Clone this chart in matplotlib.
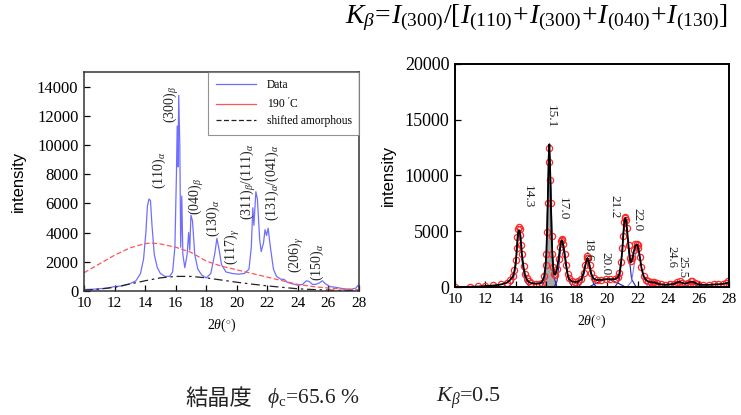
import matplotlib
matplotlib.use("Agg")
import matplotlib.pyplot as plt

plt.rcParams['mathtext.fontset'] = 'custom'
plt.rcParams['mathtext.rm'] = 'Liberation Serif'
plt.rcParams['mathtext.it'] = 'Liberation Serif:italic'
plt.rcParams['mathtext.bf'] = 'Liberation Serif:bold'
plt.rcParams['font.family'] = ['Liberation Serif', 'DejaVu Serif']

# ---------------- Left panel data ----------------
left_x = [10.0, 10.5, 11.0, 11.5, 12.0, 12.5, 13.0, 13.4, 13.7, 13.9, 14.05, 14.15, 14.25, 14.35,
          14.45, 14.6, 14.8, 15.0, 15.3, 15.6, 15.8, 15.95, 16.05, 16.1, 16.15, 16.2, 16.27, 16.33,
          16.4, 16.47, 16.6, 16.75, 16.85, 16.92, 17.0, 17.1, 17.25, 17.45, 17.7, 18.0, 18.3, 18.55,
          18.7, 18.85, 19.0, 19.3, 19.7, 20.1, 20.5, 20.8, 20.95, 21.05, 21.12, 21.25, 21.35, 21.5,
          21.6, 21.75, 21.85, 21.95, 22.05, 22.2, 22.4, 22.6, 22.9, 23.1, 23.3, 23.6, 24.0, 24.3,
          24.55, 24.75, 24.95, 25.15, 25.4, 25.6, 25.8, 26.1, 26.5, 27.0, 27.5, 27.8, 27.95, 28.0]
left_data = [100, 120, 150, 200, 300, 350, 500, 700, 1200, 2200, 4000, 5800, 6300, 6200,
             4500, 2500, 1600, 1200, 1000, 1000, 1300, 3000, 8000, 11300, 8500, 13400, 10000, 3000,
             6500, 2500, 1600, 2500, 4000, 2800, 5200, 4800, 2500, 1500, 1100, 900, 1200, 2500,
             3600, 2800, 1800, 1300, 1200, 1150, 1200, 1500, 3000, 5700, 4500, 6800, 6300, 3500,
             2700, 3300, 4200, 3800, 4300, 3000, 1500, 1000, 800, 800, 600, 500, 400, 450,
             700, 650, 450, 450, 550, 700, 500, 300, 250, 150, 120, 200, 400, 300]

melt_x = [10, 11, 12, 13, 14, 14.5, 15, 16, 17, 18, 19, 20, 21, 22, 23, 24, 25, 26, 27, 28]
melt_190 = [1250, 1850, 2450, 2950, 3250, 3280, 3220, 3000, 2650, 2050, 1700, 1450, 1200, 950,
            700, 450, 300, 200, 130, 80]

amor_x = [10, 11, 12, 13, 14, 15, 16, 17, 18, 19, 20, 21, 22, 23, 24, 25, 26, 27, 28]
amor_y = [50, 130, 250, 480, 700, 900, 1000, 1000, 900, 750, 600, 470, 350, 250, 150, 100, 60, 40, 20]

left_labels = [r"$(110)_{\alpha}$", r"$(300)_{\beta}$", r"$(040)_{\beta}$", r"$(130)_{\alpha}$",
               r"$(117)_{\gamma}$", r"$(311)_{\beta}/(111)_{\alpha}$", r"$(131)_{\alpha}/(041)_{\alpha}$",
               r"$(206)_{\gamma}$", r"$(150)_{\alpha}$"]
left_label_x = [14.95, 15.75, 17.35, 18.45, 19.75, 20.75, 22.3, 23.9, 25.3]
left_label_y = [8300, 12800, 6500, 5000, 3000, 7500, 7400, 2500, 2000]

# ---------------- Right panel data ----------------
right_x = [10.0, 11.0, 11.5, 12.0, 12.5, 13.0, 13.4, 13.6, 13.8, 13.9, 14.0, 14.05, 14.1, 14.15, 14.2,
           14.25, 14.3, 14.35, 14.4, 14.5, 14.6, 14.7, 14.85, 15.0, 15.3, 15.5, 15.7, 15.85, 15.95,
           16.0, 16.05, 16.1, 16.15, 16.2, 16.25, 16.3, 16.35, 16.4, 16.45, 16.5, 16.6, 16.7, 16.8,
           16.9, 16.95, 17.0, 17.05, 17.1, 17.2, 17.3, 17.4, 17.5, 17.7, 17.9, 18.1, 18.3, 18.45,
           18.55, 18.65, 18.7, 18.75, 18.85, 18.95, 19.1, 19.3, 19.6, 19.9, 20.2, 20.5, 20.7, 20.8,
           20.9, 21.0, 21.05, 21.1, 21.15, 21.2, 21.25, 21.3, 21.4, 21.5, 21.55, 21.65, 21.75, 21.85,
           21.95, 22.0, 22.05, 22.15, 22.25, 22.4, 22.55, 22.7, 22.85, 23.0, 23.1, 23.25, 23.5, 23.8,
           24.1, 24.4, 24.6, 24.75, 24.9, 25.1, 25.3, 25.5, 25.6, 25.75, 25.95, 26.3, 26.7, 27.0,
           27.3, 27.6, 27.8, 27.95]
right_data = [0, 20, 50, 100, 150, 250, 400, 600, 1000, 1500, 2400, 3500, 4500, 5200, 5400,
              5200, 4700, 3800, 3000, 1900, 1200, 800, 500, 400, 300, 300, 400, 1000, 2000,
              3000, 4900, 7500, 11200, 12500, 9600, 7500, 4600, 3000, 1800, 1200, 1100, 1600, 2500,
              3600, 4100, 4300, 4200, 3900, 3000, 2000, 1200, 800, 500, 450, 500, 700, 1300,
              2000, 2600, 2800, 2600, 2000, 1300, 800, 650, 650, 700, 700, 700, 900, 1300,
              2200, 3500, 4600, 5800, 6200, 6300, 6000, 5300, 3800, 2600, 2300, 2600, 3300, 3900,
              3900, 3800, 3500, 2700, 1800, 1000, 650, 500, 450, 450, 450, 350, 250, 200,
              250, 300, 450, 500, 400, 300, 400, 500, 500, 400, 250, 200, 200, 250,
              250, 300, 350, 500]
fit_y = [0, 20, 40, 80, 130, 220, 380, 600, 950, 1400, 2300, 3300, 4300, 4900, 5100,
         5000, 4600, 3800, 2900, 1800, 1100, 700, 450, 350, 300, 300, 400, 900, 1900,
         3000, 5000, 8000, 11500, 12800, 10500, 7200, 4400, 2800, 1700, 1200, 1100, 1600, 2500,
         3500, 4000, 4200, 4100, 3800, 2900, 1900, 1100, 700, 480, 450, 500, 700, 1300,
         1900, 2400, 2600, 2400, 1900, 1200, 750, 620, 650, 700, 700, 700, 850, 1200,
         2100, 3400, 4500, 5600, 6100, 6200, 5900, 5200, 3700, 2500, 2200, 2500, 3200, 3700,
         3800, 3700, 3400, 2600, 1700, 950, 620, 480, 430, 430, 420, 330, 240, 190,
         230, 290, 420, 470, 380, 290, 380, 470, 470, 380, 240, 190, 190, 230,
         240, 280, 320, 400]

comp_x = [
    [13.5, 13.8, 14.0, 14.1, 14.2, 14.3, 14.4, 14.6, 14.9],
    [15.7, 15.9, 16.0, 16.1, 16.2, 16.3, 16.4, 16.5, 16.7],
    [16.5, 16.7, 16.85, 16.95, 17.05, 17.15, 17.3, 17.45, 17.7],
    [18.1, 18.3, 18.5, 18.6, 18.7, 18.8, 18.9, 19.1, 19.3],
    [18.8, 19.3, 19.7, 20.0, 20.3, 20.7, 21.2],
    [20.5, 20.8, 20.95, 21.05, 21.2, 21.3, 21.45, 21.6, 21.9],
    [21.3, 21.6, 21.75, 21.9, 22.0, 22.1, 22.25, 22.4, 22.7],
    [22.7, 22.9, 23.1, 23.3, 23.5],
    [24.2, 24.45, 24.65, 24.85, 25.1],
    [25.1, 25.35, 25.55, 25.75, 26.0],
]
comp_y = [
    [0, 400, 2000, 3800, 5000, 4200, 2400, 500, 0],
    [0, 600, 3000, 8500, 12500, 9000, 3200, 900, 0],
    [0, 500, 2200, 3700, 4200, 3700, 2200, 700, 0],
    [0, 300, 1300, 2300, 2600, 2300, 1300, 300, 0],
    [0, 350, 600, 700, 600, 350, 0],
    [0, 600, 2600, 4800, 6100, 5000, 2600, 700, 0],
    [0, 500, 1800, 3300, 3800, 3300, 1800, 500, 0],
    [0, 250, 400, 250, 0],
    [0, 250, 400, 250, 0],
    [0, 250, 420, 250, 0],
]
comp_fill_index = 1

right_labels = ["14.3", "15.1", "17.0", "18.6", "20.0", "21.2", "22.0", "24.6", "25.5"]
right_label_x = [14.75, 16.3, 17.1, 18.7, 19.9, 20.5, 22.0, 24.2, 24.95]
right_label_y = [8100, 15300, 7000, 3300, 2100, 7200, 6000, 2700, 1750]

x_ticks = [10, 12, 14, 16, 18, 20, 22, 24, 26, 28]
left_yticks = [0, 2000, 4000, 6000, 8000, 10000, 12000, 14000]
right_yticks = [0, 5000, 10000, 15000, 20000]

# ---------------- Figure ----------------
fig = plt.figure(figsize=(7.41, 4.15), dpi=100)
axL = fig.add_axes([84 / 741, 1 - 291 / 415, 275 / 741, 219 / 415])
axR = fig.add_axes([455 / 741, 1 - 287 / 415, 274 / 741, 223 / 415])

# left panel
axL.plot(left_x, left_data, color='#6f6fff', lw=0.9, label='Data')
axL.plot(melt_x, melt_190, color='#ff5555', lw=0.9, ls=(0, (4, 2)), label="190 $'$C")
axL.plot(amor_x, amor_y, color='#222222', lw=0.9, ls=(0, (7, 3, 2, 3)), label='shifted amorphous')
axL.set_xlim(10, 28)
axL.set_ylim(0, 15000)
axL.set_xticks(x_ticks)
axL.set_yticks(left_yticks)
for x, y, t in zip(left_label_x, left_label_y, left_labels):
    axL.text(x, y, t, rotation=90, ha='center', va='center', fontsize=10, color='#222222')
leg = axL.legend(loc='upper right', bbox_to_anchor=(1.0, 1.0), borderaxespad=0.0,
                 fontsize=8.3, handlelength=3.5, frameon=True, fancybox=False,
                 borderpad=0.65, labelspacing=0.4, handletextpad=0.9)
leg.get_frame().set_edgecolor('#777777')
leg.get_frame().set_linewidth(0.8)
leg.get_lines()[1].set_linestyle('-')
leg.get_lines()[2].set_linestyle((0, (4, 2)))
for s in axL.spines.values():
    s.set_color('#333333')
    s.set_linewidth(1.1)

# right panel
axR.fill_between(comp_x[comp_fill_index], comp_y[comp_fill_index], color='#a8a8a8', lw=0)
for i, (cx, cy) in enumerate(zip(comp_x, comp_y)):
    axR.plot(cx, cy, color='#2020a0' if i != 6 else '#8080ff', lw=0.8)
axR.plot([10, 13.5], [0, 0], color='#000080', lw=1.2)
axR.plot([18.0, 22.8], [0, 0], color='#2e8b2e', lw=0.8)
axR.plot(right_x, right_data, ls='none', marker='o', ms=4.5, mfc='none', mec='#ff2a2a', mew=0.9)
axR.plot(right_x, fit_y, color='black', lw=1.3)
axR.set_xlim(10, 28)
axR.set_ylim(0, 20000)
axR.set_xticks(x_ticks)
axR.set_yticks(right_yticks)
for i, (x, y, t) in enumerate(zip(right_label_x, right_label_y, right_labels)):
    axR.text(x, y, t, rotation=-90, ha='center', va='center', fontsize=9.5 if i < 7 else 9,
             color='#222222')
for s in axR.spines.values():
    s.set_color('black')
    s.set_linewidth(1.4)

for ax, ysz, ypad in ((axL, 12, 8), (axR, 13, 6)):
    ax.tick_params(direction='in', length=4, width=0.9, labelsize=11, pad=4)
    ax.tick_params(axis='y', labelsize=ysz)
    ax.set_xlabel(r"$2\theta(^{\circ})$", fontsize=10, labelpad=5)
    ax.set_ylabel('intensity', fontsize=12, family='Liberation Sans', labelpad=ypad)
    for lab in ax.get_xticklabels() + ax.get_yticklabels():
        lab.set_family('Liberation Serif')

# title and annotations
fig.text(537 / 741, 1 - 18 / 415,
         r"$K_{\beta}\!=\!I_{(300)}/[I_{(110)}\!+\!I_{(300)}\!+\!I_{(040)}\!+\!I_{(130)}]$",
         ha='center', va='center', fontsize=20)
fig.text(185 / 741, 1 - 398 / 415, "結晶度", family=['Noto Sans CJK JP', 'DejaVu Sans'],
         fontsize=16, ha='left', va='center', color='#222222')
fig.text(267 / 741, 1 - 398 / 415, r"$\phi_{\rm c}$=65.6 %", fontsize=15.5,
         ha='left', va='center', color='#222222')
fig.text(436 / 741, 1 - 398 / 415, r"$K_{\beta}$=0.5", fontsize=16,
         ha='left', va='center', color='#222222')

fig.savefig('out.png', dpi=100)
